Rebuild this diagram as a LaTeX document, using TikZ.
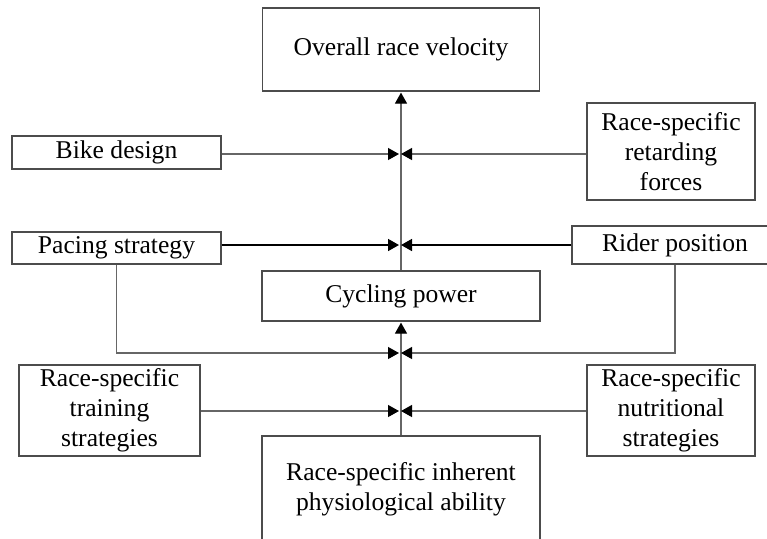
\documentclass[tikz,border=0pt]{standalone}
\usepackage{fontspec}
\setmainfont{Liberation Serif}
\usepackage{tikz}
\usetikzlibrary{arrows.meta, positioning, calc}

\begin{document}
\begin{tikzpicture}[x=0.5pt, y=-0.5pt,
        box/.style={draw=black!70, line width=0.6pt, align=center, inner sep=0pt,
            font=\fontsize{12.8}{15}\selectfont},
        link/.style={draw=black!60, line width=0.6pt},
        feed/.style={link, -{Triangle[length=5.5pt, width=6pt, color=black]}, shorten >=0.5pt},
        strong/.style={feed, draw=black, line width=0.8pt}]
            \useasboundingbox (0,0) rectangle (767,538);
            \clip (0,0) rectangle (767,538);

            % boxes
            \node[box, minimum width=138.5pt, minimum height=41.5pt] (vel) at (401,49.5) {Overall race velocity};
            \node[box, minimum width=104.5pt, minimum height=16.5pt] (bike) at (116.5,152.5) {Bike design};
            \node[box, minimum width=84pt, minimum height=48.5pt] (retard) at (671,151.5) {Race-specific\\retarding\\forces};
            \node[box, minimum width=104.5pt, minimum height=16pt] (pace) at (116.5,248) {Pacing strategy};
            \node[box, minimum width=103pt, minimum height=19pt] (rider) at (675,245) {Rider position};
            \node[box, minimum width=139pt, minimum height=25pt] (cyc) at (401,296) {Cycling power};
            \node[box, minimum width=90.5pt, minimum height=45.5pt] (train) at (109.5,410.5) {Race-specific\\training\\strategies};
            \node[box, minimum width=84pt, minimum height=45.5pt] (nutri) at (671,410.5) {Race-specific\\nutritional\\strategies};
            \node[box, minimum width=139pt, minimum height=53pt] (inher) at (401,489) {Race-specific inherent\\physiological ability};

            % junctions on the trunk
            \coordinate (j1) at (400,154);
            \coordinate (j2) at (400,245);
            \coordinate (j3) at (400,353);
            \coordinate (j4) at (400,411);

            % trunk
            \draw[feed] (cyc.north) -- (vel.south);
            \draw[feed] (inher.north) -- (cyc.south);

            % inputs
            \draw[feed] (bike.east |- j1) -- (j1);
            \draw[feed] (retard.west |- j1) -- (j1);
            \draw[strong] (pace.east |- j2) -- (j2);
            \draw[strong] (rider.west |- j2) -- (j2);
            \draw[feed] (pace.south) |- (j3);
            \draw[feed] (rider.south) |- (j3);
            \draw[feed] (train.east |- j4) -- (j4);
            \draw[feed] (nutri.west |- j4) -- (j4);
\end{tikzpicture}
\end{document}
